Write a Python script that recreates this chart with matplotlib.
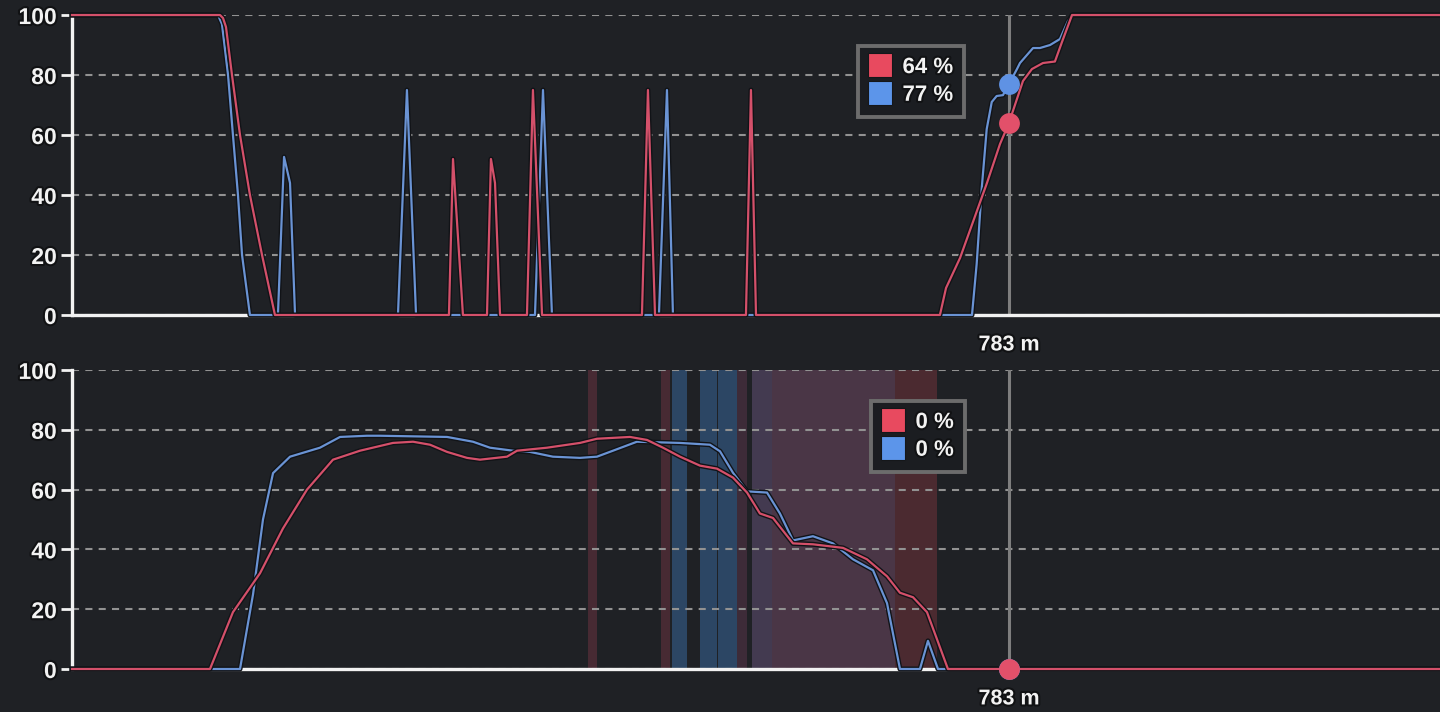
import matplotlib
matplotlib.use('Agg')
import matplotlib.pyplot as plt
import matplotlib.patheffects as pe
from matplotlib.lines import Line2D

# distance along the route (m) and percent values
x_max = 1143.2
cursor_m = 783

top_red_x = [0, 123.7, 126.2, 128.7, 133.7, 140.4, 148.7, 158.8, 169.6, 315.0, 318.4, 326.7,
             346.8, 350.1, 353.5, 357.7, 380.2, 385.2, 392.8, 476.3, 481.3, 487.2, 563.2,
             567.4, 571.6, 725.3, 730.4, 742.1, 752.9, 764.6, 775.5, 783, 786.3, 794.7,
             802.2, 811.4, 821.4, 827.3, 835.7, x_max]
top_red_y = [100, 100, 99, 96, 80, 60, 40, 20, 0, 0, 52, 0,
             0, 52, 44, 0, 0, 75, 0, 0, 75, 0, 0,
             75, 0, 0, 9, 19, 31, 44, 57, 64, 68, 78,
             82, 84, 84.5, 91, 100, 100]

top_blue_x = [0, 122.0, 125.3, 130.4, 134.5, 138.7, 142.1, 148.7, 172.1, 177.2, 182.2, 186.4,
              272.4, 279.9, 287.5, 386.9, 393.6, 401.1, 490.5, 497.2, 502.2, 752.1, 756.0,
              760.2, 764.4, 768.6, 772.7, 778.0, 783, 789.7, 792.2, 803.1, 808.9, 817.3,
              825.6, 832.3, 836.5, x_max]
top_blue_y = [100, 100, 97, 80, 60, 40, 20, 0, 0, 52.7, 44, 0,
              0, 75, 0, 0, 75, 0, 0, 75, 0, 0, 17,
              42, 62, 71, 73, 73.3, 77, 82, 84, 89, 89, 90,
              92, 98, 100, 100]

bot_red_x = [0, 115.3, 134.5, 157.1, 176.3, 196.4, 218.1, 240.7, 268.2, 285.0, 299.2, 313.4,
             330.1, 340.9, 363.5, 371.9, 396.9, 424.5, 438.7, 466.3, 480.5, 493.9, 508.1,
             524.8, 539.0, 552.4, 564.1, 574.9, 585.8, 602.5, 619.2, 644.3, 664.3, 681.1,
             691.9, 702.8, 714.5, 722.8, 732.0, x_max]
bot_red_y = [0, 0, 19, 32, 47, 60, 70, 73, 75.6, 76, 75, 72.6,
             70.6, 70, 71, 73, 74, 75.6, 77, 77.6, 76.6, 74, 71,
             68, 67, 64, 59, 52, 50.5, 42, 41.7, 40.5, 36.7, 31,
             25.5, 24, 19, 10, 0, 0]

bot_blue_x = [0, 140.4, 151.3, 159.6, 168.0, 182.2, 207.2, 224.0, 246.5, 257.4, 313.4, 335.1,
              349.3, 368.5, 382.7, 401.9, 424.5, 438.7, 452.1, 472.1, 508.1, 533.1, 541.5,
              552.4, 564.1, 580.8, 591.6, 602.5, 619.2, 635.9, 652.6, 669.4, 681.1, 691.9,
              708.6, 715.3, 723.7, x_max]
bot_blue_y = [0, 0, 25, 50, 65.5, 71, 74, 77.6, 78, 78, 77.6, 76,
              74, 73, 72.6, 71, 70.6, 71, 73, 76, 75.6, 75, 72.8,
              65.6, 59.4, 59, 52, 43, 44.4, 42, 36.7, 33, 22, 0,
              0, 9.4, 0, 0]

# shaded segments in the lower panel
band_start = [431.2, 492.2, 501.4, 524.8, 539.8, 555.7, 568.2, 585.0, 687.7]
band_end = [438.7, 499.7, 513.9, 539.0, 555.7, 564.1, 585.0, 687.7, 722.8]
band_kind = ['red', 'red', 'blue', 'blue', 'blue', 'dark', 'violet', 'mauve', 'brown']

top_cursor = [64, 77]
bot_cursor = [0, 0]

BG = '#1f2125'
RED = '#d4506a'
BLUE = '#6a93d4'
RED_SQ = '#e84a5f'
BLUE_SQ = '#5c95ea'
band_colors = {'red': '#472a33', 'blue': '#2c4664', 'dark': '#3d2b38',
               'violet': '#433a50', 'mauve': '#4a3646', 'brown': '#4b2a30'}

plt.rcParams['font.family'] = ['Liberation Sans', 'DejaVu Sans']
plt.rcParams['font.weight'] = 'bold'

outline = [pe.withStroke(linewidth=3, foreground='#111214')]
line_fx = [pe.Stroke(linewidth=3.6, foreground='#111317'), pe.Normal()]

fig = plt.figure(figsize=(14.4, 7.12), dpi=100, facecolor=BG)
ax1 = fig.add_axes([0.05, 0.5576, 0.95, 0.4213])
ax2 = fig.add_axes([0.05, 0.0604, 0.95, 0.42])


def style(ax):
    ax.set_facecolor(BG)
    ax.set_xlim(0, x_max)
    ax.set_ylim(0, 100)
    ax.set_yticks([0, 20, 40, 60, 80, 100])
    ax.set_axisbelow(True)
    ax.yaxis.grid(True, linestyle=(0, (3.4, 3.0)), color='#929292', linewidth=1.5)
    for s in ['top', 'right']:
        ax.spines[s].set_visible(False)
    for s in ['left', 'bottom']:
        ax.spines[s].set_color('#f2f2f2')
        ax.spines[s].set_linewidth(2.4)
    ax.tick_params(axis='y', colors='#f2f2f2', length=8, width=2, pad=3, labelsize=16.5)
    ax.set_xticks([cursor_m])
    ax.set_xticklabels(['%d m' % cursor_m])
    ax.tick_params(axis='x', length=0, pad=14, labelsize=15.5, colors='#f2f2f2')
    for lbl in ax.get_yticklabels() + ax.get_xticklabels():
        lbl.set_fontweight('bold')
        lbl.set_path_effects(outline)


def tooltip(ax, vals, anchor):
    handles = [Line2D([], [], marker='s', ls='none', markersize=17, markerfacecolor=c,
                      markeredgecolor='#15171a', markeredgewidth=0.8)
               for c in (RED_SQ, BLUE_SQ)]
    leg = ax.legend(handles, ['%d %%' % v for v in vals], loc='upper left',
                    bbox_to_anchor=anchor, borderaxespad=0, frameon=True, fancybox=False,
                    handlelength=1.0, handletextpad=0.5, labelspacing=0.3,
                    borderpad=0.5, prop={'weight': 'bold', 'size': 16})
    fr = leg.get_frame()
    fr.set_facecolor('#1b1d21')
    fr.set_edgecolor('#6c6c6c')
    fr.set_linewidth(2.8)
    fr.set_alpha(1)
    for t in leg.get_texts():
        t.set_color('#f2f2f2')
        t.set_path_effects(outline)
    leg.set_zorder(10)


style(ax1)
style(ax2)

for a, b, k in zip(band_start, band_end, band_kind):
    ax2.axvspan(a, b, color=band_colors[k], lw=0, zorder=0.3)

for ax in (ax1, ax2):
    ax.axvline(cursor_m, color='#7e7e7e', lw=2.2, zorder=2)

ax1.plot(top_blue_x, top_blue_y, color=BLUE, lw=1.6, zorder=3, clip_on=False, path_effects=line_fx)
ax1.plot(top_red_x, top_red_y, color=RED, lw=1.6, zorder=3.1, clip_on=False, path_effects=line_fx)
ax2.plot(bot_blue_x, bot_blue_y, color=BLUE, lw=1.6, zorder=3, clip_on=False, path_effects=line_fx)
ax2.plot(bot_red_x, bot_red_y, color=RED, lw=1.6, zorder=3.1, clip_on=False, path_effects=line_fx)

ax1.plot([cursor_m], [top_cursor[1]], 'o', color='#5f92e4', ms=15, mec='none', zorder=5, clip_on=False)
ax1.plot([cursor_m], [top_cursor[0]], 'o', color='#e2506a', ms=15, mec='none', zorder=5, clip_on=False)
ax2.plot([cursor_m], [bot_cursor[1]], 'o', color='#5f92e4', ms=15, mec='none', zorder=5, clip_on=False)
ax2.plot([cursor_m], [bot_cursor[0]], 'o', color='#e2506a', ms=15, mec='none', zorder=5, clip_on=False)

tooltip(ax1, top_cursor, (0.5746, 0.8967))
tooltip(ax2, bot_cursor, (0.5841, 0.8963))

fig.savefig('out.png', dpi=100, facecolor=BG)
